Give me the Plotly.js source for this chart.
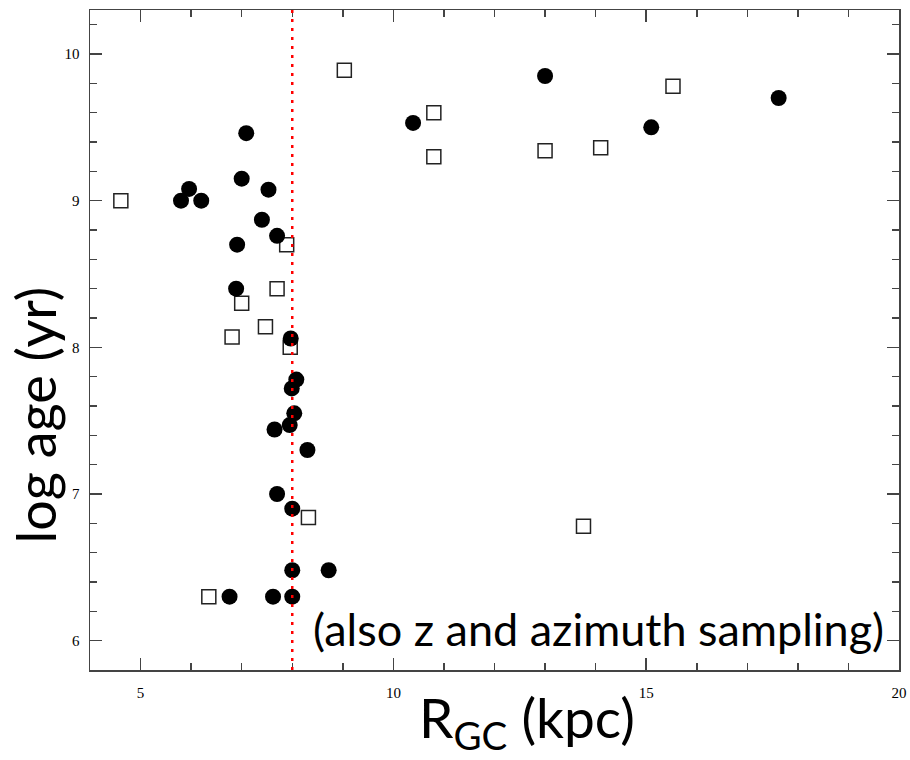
<!DOCTYPE html>
<html>
<head>
<meta charset="utf-8">
<script src="https://cdn.plot.ly/plotly-3.0.1.min.js"></script>
<style>html,body{margin:0;padding:0;background:#fff;}#chart{width:910px;height:760px;}</style>
</head>
<body>
<div id="chart"></div>
<script>
// Filled circles
const filledR = [5.80, 5.96, 6.20, 7.09, 7.00, 7.53, 7.40, 7.70, 6.91, 6.89, 7.97, 8.08, 7.99, 8.04, 7.95, 7.65, 8.30, 7.70, 8.00, 8.00, 8.72, 6.76, 7.62, 8.00, 10.39, 13.00, 15.10, 17.62];
const filledAge = [9.00, 9.08, 9.00, 9.46, 9.15, 9.075, 8.87, 8.76, 8.70, 8.40, 8.06, 7.78, 7.72, 7.55, 7.47, 7.44, 7.30, 7.00, 6.90, 6.48, 6.48, 6.30, 6.30, 6.30, 9.53, 9.85, 9.50, 9.70];
// Open squares
const openR = [4.61, 7.89, 7.70, 7.00, 7.47, 6.81, 7.96, 8.32, 6.35, 9.03, 10.80, 10.80, 13.00, 14.10, 15.53, 13.76];
const openAge = [9.00, 8.70, 8.40, 8.30, 8.14, 8.07, 8.00, 6.84, 6.30, 9.89, 9.60, 9.30, 9.34, 9.36, 9.78, 6.78];
// Solar radius marker
const solarR = 8;
const xTickVals = [5, 10, 15, 20];
const yTickVals = [6, 7, 8, 9, 10];
const xTitle = 'R<sub>GC</sub> (kpc)';
const yTitle = 'log age (yr)';
const note = '(also z and azimuth sampling)';

const axisCommon = {
  showline: true, mirror: 'allticks', linecolor: '#444', linewidth: 1.5,
  ticks: 'inside', tickcolor: '#444', tickwidth: 1.5, ticklen: 12,
  showgrid: false, zeroline: false,
  tickfont: {family: 'Liberation Serif', size: 15, color: '#000'}
};

const traces = [
  {x: openR, y: openAge, mode: 'markers', type: 'scatter', name: 'open',
   marker: {symbol: 'square-open', size: 14, color: '#222', line: {width: 1.5, color: '#222'}}},
  {x: filledR, y: filledAge, mode: 'markers', type: 'scatter', name: 'filled',
   marker: {symbol: 'circle', size: 16, color: '#000', line: {width: 0}}}
];

const layout = {
  width: 910, height: 760,
  margin: {l: 90, r: 11, t: 10, b: 90},
  paper_bgcolor: '#fff', plot_bgcolor: '#fff',
  showlegend: false,
  font: {family: 'Lato', color: '#000'},
  xaxis: Object.assign({}, axisCommon, {
    range: [4, 20], tickvals: xTickVals, ticklabelstandoff: 8,
    minor: {dtick: 1, ticks: 'inside', ticklen: 7, tickcolor: '#444', tickwidth: 1.5}
  }),
  yaxis: Object.assign({}, axisCommon, {
    range: [5.8, 10.3], tickvals: yTickVals, ticklabelstandoff: 6,
    minor: {dtick: 0.2, ticks: 'inside', ticklen: 7, tickcolor: '#444', tickwidth: 1.5}
  }),
  shapes: [{type: 'line', xref: 'x', yref: 'paper', x0: solarR, x1: solarR, y0: 0, y1: 1,
            layer: 'above', line: {color: '#ff0000', width: 2.5, dash: '3px,6px'}}],
  annotations: [
    {xref: 'paper', yref: 'paper', x: 0.629, y: 0.062, xanchor: 'center', yanchor: 'middle',
     showarrow: false, text: note, font: {family: 'Lato', size: 45, color: '#000'}},
    {xref: 'paper', yref: 'paper', x: 0.540, y: -0.018, xanchor: 'center', yanchor: 'top',
     showarrow: false, text: xTitle, font: {family: 'Lato', size: 55, color: '#000'}},
    {xref: 'paper', yref: 'paper', x: -0.067, y: 0.387, xanchor: 'center', yanchor: 'middle',
     textangle: -90, showarrow: false, text: yTitle, font: {family: 'Lato', size: 54, color: '#000'}}
  ]
};

Plotly.newPlot('chart', traces, layout, {displayModeBar: false, staticPlot: true});
</script>
</body>
</html>
